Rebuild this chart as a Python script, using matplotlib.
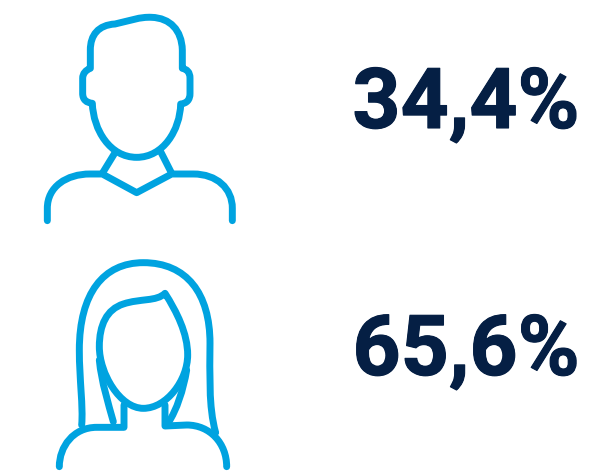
import matplotlib
matplotlib.use("Agg")
import matplotlib.pyplot as plt
import matplotlib.patheffects as pe
from matplotlib.path import Path
from matplotlib.patches import PathPatch

# Data
labels = ["34,4%", "65,6%"]
label_y = [128, 375]
label_x = 466
icon_color = "#00a3e0"
text_color = "#051f44"

man_parts = [
    "M 255 72 C 300 62 330 50 365 52 C 420 54 455 90 457 150 L 457 205 C 470 208 480 215 480 235 L 480 280 C 480 300 470 310 452 312 C 450 390 400 472 320 472 C 240 472 190 390 187 310 C 170 308 158 300 158 280 L 158 235 C 158 220 168 210 181 205 L 181 150 C 181 105 205 75 255 72 Z",
    "M 255 458 L 217 520",
    "M 392 455 L 425 520",
    "M 52 662 L 52 625 C 52 560 110 522 180 522 L 217 522 L 320 578 L 425 522 L 490 522 C 560 522 607 565 607 625 L 607 662",
]
woman_parts = [
    "M 125 525 C 130 470 118 390 118 300 C 118 130 190 38 310 38 C 440 38 510 130 510 280 C 510 370 505 470 527 548",
    "M 58 650 C 58 590 100 532 170 532 L 252 532 L 252 465",
    "M 375 465 L 375 528 L 440 525 C 510 525 560 580 560 650",
    "M 375 130 C 350 155 300 145 250 162 C 200 178 178 225 178 290 C 178 370 240 475 310 475 C 380 475 443 390 443 315 C 443 250 410 185 375 130 Z",
    "M 178 330 C 185 400 205 460 220 515",
    "M 440 360 C 430 420 410 480 385 518",
]
man_origin = (30, 0)
woman_origin = (40, 250)


def to_path(text, origin):
    tok = text.split()
    verts, codes = [], []
    i = 0
    while i < len(tok):
        c = tok[i]
        i += 1
        if c == "Z":
            verts.append(verts[0])
            codes.append(Path.CLOSEPOLY)
            continue
        n = 3 if c == "C" else 1
        for k in range(n):
            verts.append((float(tok[i]) / 3 + origin[0], float(tok[i + 1]) / 3 + origin[1]))
            i += 2
            codes.append({"M": Path.MOVETO, "L": Path.LINETO, "C": Path.CURVE4}[c])
    return Path(verts, codes)


fig = plt.figure(figsize=(5.92, 4.76), dpi=100)
ax = fig.add_axes([0, 0, 1, 1])
ax.set_xlim(0, 592)
ax.set_ylim(476, 0)
ax.axis("off")

for parts, origin in ((man_parts, man_origin), (woman_parts, woman_origin)):
    for p in parts:
        ax.add_patch(PathPatch(to_path(p, origin), fill=False, edgecolor=icon_color,
                               linewidth=5.0, capstyle="round", joinstyle="round"))

for s, y in zip(labels, label_y):
    ax.text(label_x, y, s, ha="center", va="baseline", fontsize=60.5,
            fontweight="bold", family="Roboto", color=text_color,
            path_effects=[pe.withStroke(linewidth=0.8, foreground=text_color)])

fig.savefig("out.png", dpi=100)
